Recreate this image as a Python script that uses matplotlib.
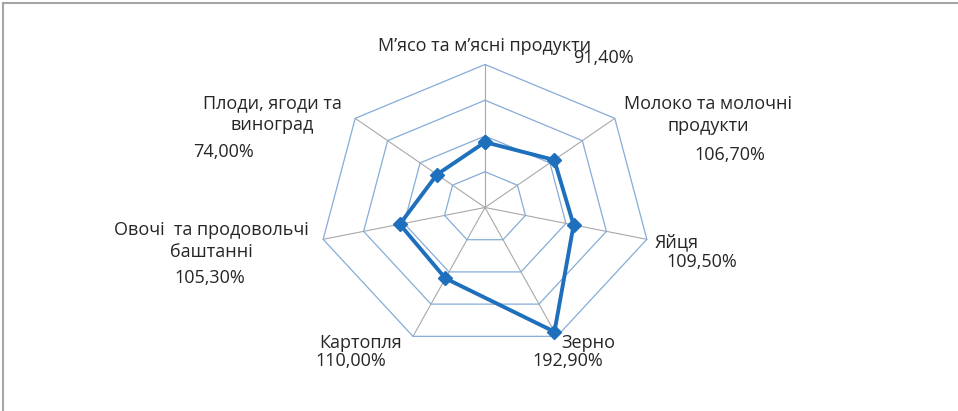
import numpy as np
import matplotlib
import matplotlib.pyplot as plt
from matplotlib.lines import Line2D

matplotlib.use("Agg")
plt.rcParams["font.family"] = ["Open Sans", "DejaVu Sans"]

# Дані
CATEGORIES = [
    "М’ясо та м’ясні продукти",
    "Молоко та молочні\nпродукти",
    "Яйця",
    "Зерно",
    "Картопля",
    "Овочі  та продовольчі\nбаштанні",
    "Плоди, ягоди та\nвиноград",
]
VALUES = [91.4, 106.7, 109.5, 192.9, 110.0, 105.3, 74.0]
VALUE_LABELS = ["91,40%", "106,70%", "109,50%", "192,90%", "110,00%", "105,30%", "74,00%"]
RINGS = [50, 100, 150, 200]

# Позиції підписів (пікселі зображення: x, y) — категорія та значення
CAT_POS = [(485, 46), (708, 115), (677, 242), (588, 343), (361, 343), (211, 241), (272, 114)]
VAL_POS = [(603, 58), (730, 155), (702, 262), (568, 361), (351, 361), (210, 278), (223, 152)]

W, H = 958, 411
LINE_COLOR = "#1F70BC"
RING_COLOR = "#86ACD8"
SPOKE_COLOR = "#A8A8A8"


def polar_xy(r, n):
    ang = np.arange(n) * 2 * np.pi / n
    return np.asarray(r) * np.sin(ang), np.asarray(r) * np.cos(ang)


fig = plt.figure(figsize=(W / 100, H / 100), dpi=100)
fig.patch.set_facecolor("white")

# центр (485, 207.5), радіуси: x 166 px, y 143 px
rx, ry, cx, cy = 166, 143, 485, 207.5
ax = fig.add_axes([(cx - rx) / W, (H - cy - ry) / H, 2 * rx / W, 2 * ry / H])
ax.set_xlim(-RINGS[-1], RINGS[-1])
ax.set_ylim(-RINGS[-1], RINGS[-1])
ax.axis("off")

n = len(CATEGORIES)
# спиці
sx, sy = polar_xy([RINGS[-1]] * n, n)
for x, y in zip(sx, sy):
    ax.plot([0, x], [0, y], color=SPOKE_COLOR, lw=0.8, zorder=1)
# кільця
for r in RINGS:
    gx, gy = polar_xy([r] * n, n)
    ax.plot(np.append(gx, gx[0]), np.append(gy, gy[0]), color=RING_COLOR, lw=0.9, zorder=2)

# ряд даних
vx, vy = polar_xy(VALUES, n)
ax.plot(np.append(vx, vx[0]), np.append(vy, vy[0]), color=LINE_COLOR, lw=2.8,
        marker="D", markersize=7.5, zorder=3, solid_joinstyle="miter")

# підписи
for cat, val, (px, py), (qx, qy) in zip(CATEGORIES, VALUE_LABELS, CAT_POS, VAL_POS):
    fig.text(px / W, 1 - py / H, cat, ha="center", va="center", fontsize=13,
             color="#262626", linespacing=1.3)
    fig.text(qx / W, 1 - qy / H, val, ha="center", va="center", fontsize=13, color="#262626")

# рамка
fig.add_artist(Line2D([3 / W, 1], [1 - 3 / H, 1 - 3 / H], color="#A6A6A6", lw=1.5))
fig.add_artist(Line2D([3 / W, 3 / W], [0, 1 - 3 / H], color="#A6A6A6", lw=1.5))

fig.savefig("out.png", dpi=100)
